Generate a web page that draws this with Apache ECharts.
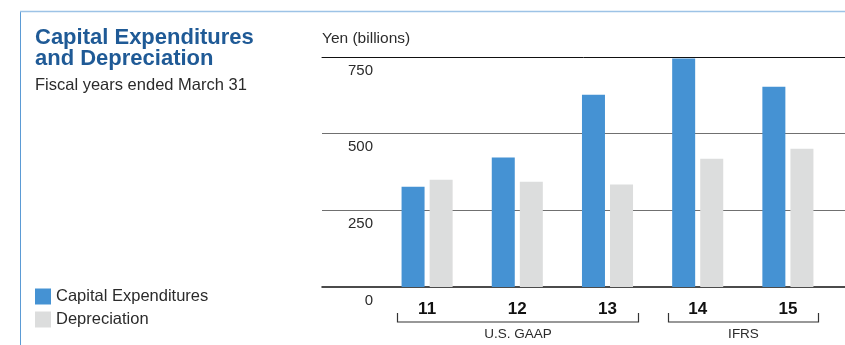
<!DOCTYPE html>
<html>
<head>
<meta charset="utf-8">
<script src="https://cdn.jsdelivr.net/npm/echarts@6/dist/echarts.min.js"></script>
<style>
  html, body { margin: 0; padding: 0; background: #fff; }
  #chart { width: 845px; height: 345px; }
</style>
</head>
<body>
<div id="chart"></div>
<script>
// Fiscal years (ended March 31)
const categories = ['11', '12', '13', '14', '15'];
// Yen (billions)
const capitalExpenditures = [327, 422, 627, 745, 653];
const depreciation = [350, 343, 334, 418, 451];
// Value axis
const yMin = 0, yMax = 750, yInterval = 250;
// Accounting standard groupings under the year labels
const groupNames = ['U.S. GAAP', 'IFRS'];
const groupFirst = ['11', '14'];
const groupLast = ['13', '15'];

const FONT = '"Liberation Sans", Arial, Helvetica, sans-serif';
const BLUE = '#4592d3';
const GRAY = '#dcdddd';
const TEXT = '#2b2b2b';

const chart = echarts.init(document.getElementById('chart'), null, { renderer: 'canvas' });

const option = {
  animation: false,
  backgroundColor: '#ffffff',
  textStyle: { fontFamily: FONT },
  grid: [
    // frame grid: gridlines spanning the full plot width
    { left: 322, right: 0, top: 57, bottom: 58 },
    // bar grid
    { left: 382, right: 12, top: 57, bottom: 58 }
  ],
  xAxis: [
    { gridIndex: 0, type: 'value', min: 0, max: 1, position: 'bottom',
      axisLine: { show: true, lineStyle: { color: '#111', width: 1.5 } },
      axisTick: { show: false }, axisLabel: { show: false }, splitLine: { show: false } },
    { gridIndex: 0, type: 'value', min: 0, max: 1, position: 'top',
      axisLine: { show: true, lineStyle: { color: '#111', width: 1 } },
      axisTick: { show: false }, axisLabel: { show: false }, splitLine: { show: false } },
    { gridIndex: 1, type: 'category', data: categories, position: 'bottom',
      axisLine: { show: false }, axisTick: { show: false },
      axisLabel: { margin: 14, fontSize: 17, fontWeight: 'bold', color: '#111', fontFamily: FONT } }
  ],
  yAxis: [
    { gridIndex: 0, type: 'value', min: yMin, max: yMax, interval: yInterval,
      axisLine: { show: false }, axisTick: { show: false },
      axisLabel: { inside: true, margin: 51, align: 'right', verticalAlign: 'top',
                   padding: [6, 0, 0, 0], fontSize: 15, color: TEXT, fontFamily: FONT },
      splitLine: { show: true, showMinLine: false, showMaxLine: false,
                   lineStyle: { color: '#707070', width: 1 } } },
    { gridIndex: 1, type: 'value', min: yMin, max: yMax, interval: yInterval, show: false,
      splitLine: { show: false } }
  ],
  legend: {
    orient: 'vertical', left: 35, top: 288, padding: 0, itemWidth: 16, itemHeight: 16, itemGap: 6,
    icon: 'rect', textStyle: { fontSize: 16.5, color: TEXT, fontFamily: FONT },
    data: ['Capital Expenditures', 'Depreciation']
  },
  series: [
    { name: 'Capital Expenditures', type: 'bar', xAxisIndex: 2, yAxisIndex: 1,
      data: capitalExpenditures, barWidth: 23, barGap: '22%', itemStyle: { color: BLUE } },
    { name: 'Depreciation', type: 'bar', xAxisIndex: 2, yAxisIndex: 1,
      data: depreciation, barWidth: 23, barGap: '22%', itemStyle: { color: GRAY } }
  ]
};
chart.setOption(option);

// Header texts and panel frame
const graphics = [
  { type: 'line', shape: { x1: 20.5, y1: 11, x2: 20.5, y2: 345 }, style: { stroke: '#5b9bd5', lineWidth: 1 } },
  { type: 'line', shape: { x1: 20, y1: 11.5, x2: 845, y2: 11.5 }, style: { stroke: '#9dc3e6', lineWidth: 1.5 } },
  { type: 'text', left: 35, top: 27, style: { text: 'Capital Expenditures\nand Depreciation', fill: '#1f5a96',
      font: 'bold 22px ' + FONT, lineHeight: 21 } },
  { type: 'text', left: 35, top: 77, style: { text: 'Fiscal years ended March 31', fill: TEXT, font: '16.5px ' + FONT } },
  { type: 'text', left: 322, top: 31, style: { text: 'Yen (billions)', fill: TEXT, font: '15.5px ' + FONT } }
];

// Brackets beneath the year labels, positioned from the category axis
const catX = c => chart.convertToPixel({ xAxisIndex: 2 }, c);
const band = catX(categories[1]) - catX(categories[0]);
const zeroY = chart.convertToPixel({ yAxisIndex: 1 }, 0);
const bracketTop = zeroY + 26, bracketBottom = zeroY + 35;
groupNames.forEach((name, i) => {
  const x1 = Math.round(catX(groupFirst[i]) - band / 3) + 0.5;
  const x2 = Math.round(catX(groupLast[i]) + band / 3) + 0.5;
  graphics.push({ type: 'polyline', shape: { points: [[x1, bracketTop], [x1, bracketBottom], [x2, bracketBottom], [x2, bracketTop]] },
    style: { stroke: '#333', lineWidth: 1.2, fill: null } });
  graphics.push({ type: 'text', x: (x1 + x2) / 2, y: bracketBottom + 5,
    style: { text: name, fill: TEXT, font: '13.5px ' + FONT, textAlign: 'center', textVerticalAlign: 'top' } });
});
chart.setOption({ graphic: graphics });
</script>
</body>
</html>
